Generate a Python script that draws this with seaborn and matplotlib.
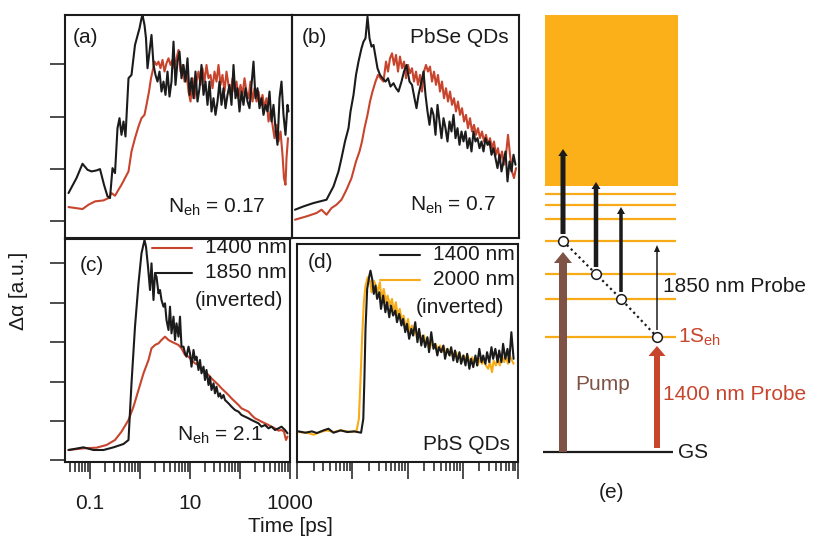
import numpy as np
import pandas as pd
import seaborn as sns
import matplotlib.pyplot as plt
from matplotlib.ticker import FixedLocator, NullFormatter
from matplotlib.patches import Rectangle

### Data (delay stored as log10 of time in ps, signal in arbitrary units)

# (a) PbSe, N_eh = 0.17
a_black_logt = [-1.43, -1.27, -1.15, -1.05, -0.97, -0.87, -0.80, -0.72, -0.65, -0.60, -0.55, -0.50, -0.45, -0.41,
                -0.37, -0.33, -0.29, -0.23, -0.17, -0.10, -0.01, 0.03, 0.05, 0.09, 0.12, 0.15, 0.19, 0.23, 0.27, 0.31,
                0.35, 0.39, 0.43, 0.47, 0.51, 0.55, 0.59, 0.63, 0.67, 0.71, 0.75, 0.79, 0.83, 0.87, 0.91, 0.95, 0.99,
                1.03, 1.07, 1.11, 1.15, 1.19, 1.23, 1.27, 1.31, 1.35, 1.39, 1.43, 1.47, 1.51, 1.55, 1.59, 1.63, 1.67,
                1.71, 1.75, 1.79, 1.83, 1.87, 1.91, 1.95, 1.99, 2.03, 2.07, 2.11, 2.15, 2.19, 2.23, 2.27, 2.31, 2.35,
                2.39, 2.43, 2.47, 2.51, 2.55, 2.59, 2.63, 2.67, 2.71, 2.75, 2.79, 2.83, 2.87, 2.91, 2.95, 2.97]
a_black_sig = [135, 180, 223, 205, 200, 203, 207, 160, 125, 120, 210, 195, 330, 360,
               310, 350, 305, 480, 490, 580, 630, 660, 670, 640, 600, 510, 560, 610, 520, 490,
               470, 500, 440, 470, 430, 500, 425, 470, 590, 460, 530, 560, 480, 520, 470, 540, 430,
               480, 420, 500, 410, 450, 520, 430, 470, 400, 470, 380, 420, 370, 410, 470, 400, 450,
               390, 430, 460, 400, 520, 420, 450, 380, 440, 400, 450, 410, 390, 460, 530, 420, 450,
               390, 420, 370, 400, 380, 440, 350, 400, 330, 280, 420, 470, 370, 310, 400, 380]
a_red_logt = [-1.43, -1.15, -1.03, -0.90, -0.73, -0.63, -0.57, -0.50, -0.43, -0.37, -0.30, -0.23, -0.17, -0.10,
              -0.03, 0.03, 0.09, 0.13, 0.18, 0.22, 0.25, 0.29, 0.33, 0.37, 0.41, 0.45, 0.49, 0.53, 0.57, 0.61,
              0.65, 0.69, 0.73, 0.77, 0.81, 0.85, 0.89, 0.93, 0.97, 1.01, 1.05, 1.09, 1.13, 1.17, 1.21, 1.25,
              1.29, 1.33, 1.37, 1.41, 1.45, 1.49, 1.53, 1.57, 1.61, 1.65, 1.69, 1.73, 1.77, 1.81, 1.85, 1.89,
              1.93, 1.97, 2.01, 2.05, 2.09, 2.13, 2.17, 2.21, 2.25, 2.29, 2.33, 2.37, 2.41, 2.45, 2.49, 2.53,
              2.57, 2.61, 2.65, 2.69, 2.73, 2.77, 2.81, 2.85, 2.88, 2.91, 2.93, 2.96]
a_red_sig = [93, 87, 100, 110, 113, 120, 135, 127, 145, 160, 180, 200, 260, 300,
             335, 360, 370, 400, 440, 480, 500, 530, 520, 530, 510, 535, 500, 525, 540, 520,
             535, 510, 540, 565, 500, 520, 470, 500, 440, 410, 480, 420, 470, 500, 460, 510,
             470, 520, 480, 490, 450, 500, 470, 520, 460, 490, 440, 500, 460, 430, 480, 440,
             470, 420, 460, 430, 480, 440, 420, 470, 410, 450, 410, 440, 400, 430, 390, 420,
             350, 380, 340, 300, 340, 290, 320, 250, 180, 160, 240, 300]

# (b) PbSe, N_eh = 0.7
b_black_logt = [-1.44, -1.27, -1.07, -0.81, -0.67, -0.57, -0.51, -0.44, -0.37, -0.33, -0.27, -0.22, -0.17, -0.11,
                -0.07, -0.03, 0.01, 0.05, 0.09, 0.13, 0.17, 0.21, 0.26, 0.31, 0.37, 0.42, 0.47, 0.53, 0.58, 0.63,
                0.69, 0.74, 0.79, 0.85, 0.90, 0.95, 0.99, 1.03, 1.09, 1.13, 1.17, 1.21, 1.25, 1.29, 1.33, 1.37,
                1.41, 1.45, 1.49, 1.53, 1.57, 1.61, 1.65, 1.69, 1.73, 1.77, 1.81, 1.85, 1.89, 1.93, 1.97, 2.01,
                2.05, 2.09, 2.13, 2.17, 2.21, 2.25, 2.29, 2.33, 2.37, 2.41, 2.45, 2.49, 2.53, 2.57, 2.61, 2.65,
                2.69, 2.73, 2.77, 2.81, 2.85, 2.89, 2.93, 2.97]
b_black_sig = [85, 95, 105, 115, 155, 200, 240, 290, 330, 380, 430, 490, 530, 570,
               590, 600, 665, 600, 575, 580, 545, 510, 490, 480, 470, 480, 455, 465, 450, 440,
               470, 500, 520, 470, 460, 420, 390, 430, 470, 500, 430, 380, 340, 390, 370, 310,
               400, 350, 300, 360, 330, 290, 350, 320, 370, 300, 330, 280, 320, 290, 320, 270,
               300, 260, 320, 290, 300, 270, 290, 260, 300, 280, 290, 250, 270, 240, 210, 250,
               200, 230, 260, 170, 230, 200, 250, 220]
b_red_logt = [-1.44, -1.21, -1.01, -0.91, -0.81, -0.71, -0.61, -0.51, -0.41, -0.31, -0.22, -0.15, -0.10, -0.05,
              0.01, 0.06, 0.11, 0.17, 0.22, 0.27, 0.33, 0.38, 0.42, 0.46, 0.50, 0.54, 0.58, 0.62, 0.66, 0.70,
              0.74, 0.78, 0.82, 0.86, 0.90, 0.94, 0.98, 1.02, 1.06, 1.10, 1.14, 1.18, 1.22, 1.26, 1.30, 1.34,
              1.38, 1.42, 1.46, 1.50, 1.54, 1.58, 1.62, 1.66, 1.70, 1.74, 1.78, 1.82, 1.86, 1.90, 1.94, 1.98,
              2.02, 2.06, 2.10, 2.14, 2.18, 2.22, 2.26, 2.30, 2.34, 2.38, 2.42, 2.46, 2.50, 2.54, 2.58, 2.62,
              2.66, 2.70, 2.74, 2.78, 2.82, 2.86, 2.90, 2.94, 2.98]
b_red_sig = [55, 65, 75, 85, 70, 90, 100, 115, 145, 180, 230, 260, 290, 330,
             370, 410, 440, 470, 490, 480, 470, 530, 500, 540, 555, 520, 550, 500, 545, 510,
             530, 480, 520, 495, 510, 470, 500, 460, 490, 440, 500, 520, 500, 515, 470, 500,
             460, 490, 440, 470, 420, 450, 410, 440, 400, 420, 380, 410, 370, 390, 350, 370,
             330, 360, 320, 340, 310, 330, 300, 320, 290, 310, 280, 300, 270, 290, 250, 270,
             230, 260, 220, 250, 310, 250, 200, 180, 210]

# (c) PbSe, N_eh = 2.1
c_red_logt = [-1.43, -1.13, -0.87, -0.67, -0.50, -0.37, -0.23, -0.13, -0.03, 0.07, 0.17, 0.23, 0.30, 0.37,
              0.43, 0.50, 0.57, 0.63, 0.70, 0.77, 0.83, 0.90, 0.97, 1.03, 1.10, 1.17, 1.23, 1.30, 1.37, 1.43,
              1.50, 1.57, 1.63, 1.70, 1.77, 1.83, 1.90, 1.97, 2.03, 2.10, 2.17, 2.23, 2.30, 2.37, 2.43, 2.50,
              2.57, 2.63, 2.70, 2.77, 2.83, 2.88, 2.92, 2.95]
c_red_sig = [30, 35, 37, 45, 60, 85, 120, 160, 210, 260, 300, 335, 345, 350,
             360, 370, 360, 355, 350, 345, 335, 315, 310, 300, 290, 285, 275, 265, 255, 245,
             235, 225, 215, 205, 195, 185, 175, 165, 155, 150, 145, 135, 125, 120, 115, 110,
             105, 100, 95, 88, 90, 85, 60, 70]
c_black_logt = [-1.43, -1.13, -0.93, -0.73, -0.53, -0.33, -0.23, -0.17, -0.10, -0.03, 0.03, 0.09, 0.12, 0.16,
                0.20, 0.23, 0.27, 0.30, 0.33, 0.37, 0.40, 0.43, 0.47, 0.50, 0.53, 0.57, 0.60, 0.63, 0.67, 0.70,
                0.73, 0.77, 0.80, 0.83, 0.87, 0.90, 0.93, 0.97, 1.00, 1.03, 1.07, 1.10, 1.13, 1.17, 1.20, 1.23,
                1.27, 1.30, 1.33, 1.37, 1.40, 1.43, 1.47, 1.50, 1.53, 1.57, 1.60, 1.63, 1.67, 1.70, 1.77, 1.83,
                1.90, 1.97, 2.03, 2.10, 2.17, 2.23, 2.30, 2.37, 2.43, 2.50, 2.57, 2.63, 2.70, 2.77, 2.83, 2.90,
                2.95]
c_black_sig = [30, 38, 30, 30, 38, 48, 60, 230, 400, 530, 620, 660, 640, 580,
               510, 590, 480, 560, 550, 500, 510, 480, 460, 470, 420, 390, 460, 380, 430, 360,
               410, 370, 430, 340, 340, 320, 310, 340, 320, 280, 330, 300, 310, 270, 300, 260,
               280, 240, 270, 225, 250, 210, 230, 200, 220, 190, 200, 185, 195, 180, 170, 160,
               150, 145, 135, 130, 125, 120, 115, 110, 100, 105, 95, 100, 90, 95, 100, 90,
               80]

# (d) PbS: 1400 nm (black) and 2000 nm inverted (orange)
d_orange_logt = [-0.97, -0.82, -0.70, -0.58, -0.46, -0.34, -0.21, -0.09, 0.00, 0.08, 0.12, 0.15, 0.18, 0.21,
                 0.24, 0.28, 0.32, 0.35, 0.39, 0.43, 0.46, 0.50, 0.53, 0.57, 0.61, 0.64, 0.68, 0.72, 0.75, 0.79,
                 0.82, 0.86, 0.90, 0.93, 0.97, 1.01, 1.04, 1.08, 1.11, 1.15, 1.19, 1.22, 1.26, 1.30, 1.33, 1.37,
                 1.40, 1.44, 1.48, 1.51, 1.55, 1.59, 1.62, 1.66, 1.69, 1.73, 1.77, 1.80, 1.84, 1.88, 1.91, 1.95,
                 1.98, 2.02, 2.06, 2.09, 2.13, 2.17, 2.20, 2.24, 2.27, 2.31, 2.35, 2.38, 2.42, 2.46, 2.49, 2.53,
                 2.56, 2.60, 2.64, 2.67, 2.71, 2.75, 2.78, 2.82, 2.85, 2.89, 2.92]
d_orange_sig = [90, 88, 82, 90, 95, 90, 95, 92, 90, 95, 130, 250, 380, 480,
                530, 555, 545, 510, 545, 530, 510, 540, 490, 520, 480, 500, 470, 490, 450, 480,
                440, 460, 420, 440, 400, 430, 390, 410, 380, 400, 370, 390, 360, 380, 350, 370,
                340, 360, 345, 355, 335, 350, 330, 345, 325, 340, 320, 335, 315, 330, 310, 325,
                300, 320, 305, 320, 295, 315, 300, 310, 290, 310, 295, 305, 290, 280, 300, 270,
                305, 290, 310, 290, 320, 300, 315, 295, 320, 305, 295]
d_black_logt = [-0.97, -0.85, -0.73, -0.64, -0.52, -0.43, -0.34, -0.21, -0.09, 0.03, 0.16, 0.20, 0.22, 0.24,
                0.27, 0.31, 0.33, 0.36, 0.39, 0.42, 0.45, 0.49, 0.52, 0.56, 0.60, 0.63, 0.67, 0.70, 0.74, 0.78,
                0.81, 0.85, 0.89, 0.92, 0.96, 0.99, 1.03, 1.07, 1.10, 1.14, 1.18, 1.21, 1.25, 1.28, 1.32, 1.36,
                1.39, 1.43, 1.47, 1.50, 1.54, 1.57, 1.61, 1.65, 1.68, 1.72, 1.76, 1.79, 1.83, 1.86, 1.90, 1.94,
                1.97, 2.01, 2.05, 2.08, 2.12, 2.15, 2.19, 2.23, 2.26, 2.30, 2.34, 2.37, 2.41, 2.44, 2.48, 2.52,
                2.55, 2.59, 2.63, 2.66, 2.70, 2.73, 2.77, 2.81, 2.84, 2.88, 2.92]
d_black_sig = [92, 88, 92, 87, 95, 100, 88, 95, 90, 92, 88, 130, 250, 400,
               520, 560, 575, 550, 505, 530, 490, 510, 460, 500, 450, 480, 435, 470, 440, 455,
               420, 445, 410, 430, 390, 415, 370, 400, 380, 420, 360, 400, 350, 380, 345, 375,
               330, 390, 340, 355, 320, 345, 330, 350, 310, 340, 320, 345, 305, 335, 300, 330,
               295, 320, 290, 325, 280, 310, 285, 320, 290, 340, 300, 320, 295, 330, 300, 345,
               310, 340, 300, 335, 300, 355, 310, 340, 300, 390, 310]

# (e) level scheme, energies in a.u. above the ground state
gs_energy = 0
confined_levels = [115, 153, 178, 211, 233, 247, 258]
continuum_range = (266, 437)
carrier_x = [33, 66, 91, 127]
carrier_levels = [211, 178, 153, 115]
probe_1850_energy = 85
probe_1850_widths = [5, 4.5, 3.5, 1.5]
pump_energy = 200
probe_1400_energy = 102

### Styling
sns.set_style('ticks')
plt.rcParams['font.family'] = ['Liberation Sans', 'DejaVu Sans']
plt.rcParams['mathtext.fontset'] = 'custom'
plt.rcParams['mathtext.rm'] = 'Liberation Sans'

RED = '#c8452d'
BLACK = '#1c1b1b'
ORANGE = '#f7ab17'
FILL = '#fbb01a'
BROWN = '#7e5346'
FS = 15

plt.rcParams['text.color'] = BLACK
plt.rcParams['xtick.color'] = BLACK
plt.rcParams['ytick.color'] = BLACK

W, H = 815, 539

# log-axis tick positions
decades = [0.01, 0.1, 1, 10, 100]
major_ticks = [0.1, 1, 10, 100, 1000]
minor_ticks = [d * k for d in decades for k in range(2, 10)]


def px_axes(fig, left, top, right, bottom):
    return fig.add_axes([left / W, (H - bottom) / H, (right - left) / W, (bottom - top) / H])


def draw(ax, logt, sig, color):
    df = pd.DataFrame({'t': 10 ** np.array(logt), 'sig': sig})
    sns.lineplot(data=df, x='t', y='sig', ax=ax, color=color, lw=1.5, sort=False, estimator=None)


def box(ax):
    for s in ax.spines.values():
        s.set_visible(True)
        s.set_linewidth(1.5)
        s.set_color(BLACK)
    ax.set_xlabel('')
    ax.set_ylabel('')
    ax.set_facecolor('none')
    ax.tick_params(which='both', direction='out', width=1.1, color=BLACK, labelsize=FS, labelcolor=BLACK)


fig = plt.figure(figsize=(8.15, 5.39), dpi=100)

ax_a = px_axes(fig, 65, 15, 292, 238)
ax_b = px_axes(fig, 292, 15, 519, 238)
ax_c = px_axes(fig, 65, 239, 290, 462)
ax_d = px_axes(fig, 297, 244, 518, 462)

draw(ax_a, a_red_logt, a_red_sig, RED)
draw(ax_a, a_black_logt, a_black_sig, BLACK)
draw(ax_b, b_red_logt, b_red_sig, RED)
draw(ax_b, b_black_logt, b_black_sig, BLACK)
draw(ax_c, c_red_logt, c_red_sig, RED)
draw(ax_c, c_black_logt, c_black_sig, BLACK)
draw(ax_d, d_orange_logt, d_orange_sig, ORANGE)
draw(ax_d, d_black_logt, d_black_sig, BLACK)

for ax in [ax_a, ax_b, ax_c, ax_d]:
    ax.set_xscale('log')
    box(ax)

# top row
for ax in [ax_a, ax_b]:
    ax.set_xlim(10 ** -1.5, 10 ** 3.04)
    ax.set_ylim(0, 670)
    ax.tick_params(axis='x', which='both', bottom=False, labelbottom=False)
ax_a.set_yticks([50, 208, 365, 522])
ax_a.tick_params(axis='y', length=11, labelleft=False)
ax_b.set_yticks([])

# bottom row: shared tick layout
for ax in [ax_c, ax_d]:
    ax.xaxis.set_major_locator(FixedLocator(major_ticks))
    ax.xaxis.set_minor_locator(FixedLocator(minor_ticks))
    ax.xaxis.set_minor_formatter(NullFormatter())
    ax.tick_params(axis='x', which='major', length=12, pad=11)
    ax.tick_params(axis='x', which='minor', length=7)

# (c)
ax_c.set_xlim(10 ** -1.5, 10 ** 3.0)
ax_c.set_ylim(-6, 663)
ax_c.set_yticks([0, 118, 235, 353, 472, 590])
ax_c.tick_params(axis='y', length=11, labelleft=False)
ax_c.set_xticklabels(['0.1', '', '10', '', '1000'])

# (d)
ax_d.set_xlim(0.1, 1000)
ax_d.set_ylim(0, 655)
ax_d.set_yticks([])
ax_d.xaxis.set_major_formatter(NullFormatter())
ax_d.tick_params(axis='x', which='minor', length=6.5)

# panel annotations
ax_a.text(0.035, 0.901, '(a)', transform=ax_a.transAxes, fontsize=FS, va='center')
ax_a.text(0.454, 0.139, r'N$_\mathregular{eh}$ = 0.17', transform=ax_a.transAxes, fontsize=FS, va='center')
ax_b.text(0.044, 0.901, '(b)', transform=ax_b.transAxes, fontsize=FS, va='center')
ax_b.text(0.956, 0.901, 'PbSe QDs', transform=ax_b.transAxes, fontsize=FS, va='center', ha='right')
ax_b.text(0.520, 0.148, r'N$_\mathregular{eh}$ = 0.7', transform=ax_b.transAxes, fontsize=FS, va='center')
ax_c.text(0.067, 0.883, '(c)', transform=ax_c.transAxes, fontsize=FS, va='center')
ax_c.text(0.498, 0.121, r'N$_\mathregular{eh}$ = 2.1', transform=ax_c.transAxes, fontsize=FS, va='center')
ax_d.text(0.050, 0.913, '(d)', transform=ax_d.transAxes, fontsize=FS, va='center')
ax_d.text(0.964, 0.078, 'PbS QDs', transform=ax_d.transAxes, fontsize=FS, va='center', ha='right')

# hand-made legends
ax_c.plot([0.387, 0.564], [0.960, 0.960], color=RED, lw=1.5, transform=ax_c.transAxes)
ax_c.plot([0.400, 0.564], [0.848, 0.848], color=BLACK, lw=1.5, transform=ax_c.transAxes)
ax_c.text(0.987, 0.960, '1400 nm', transform=ax_c.transAxes, fontsize=FS, va='center', ha='right')
ax_c.text(0.987, 0.848, '1850 nm', transform=ax_c.transAxes, fontsize=FS, va='center', ha='right')
ax_c.text(0.969, 0.726, '(inverted)', transform=ax_c.transAxes, fontsize=FS, va='center', ha='right')

ax_d.plot([0.376, 0.557], [0.950, 0.950], color=BLACK, lw=1.5, transform=ax_d.transAxes)
ax_d.plot([0.376, 0.557], [0.835, 0.835], color=ORANGE, lw=1.5, transform=ax_d.transAxes)
ax_d.text(0.986, 0.950, '1400 nm', transform=ax_d.transAxes, fontsize=FS, va='center', ha='right')
ax_d.text(0.986, 0.835, '2000 nm', transform=ax_d.transAxes, fontsize=FS, va='center', ha='right')
ax_d.text(0.936, 0.711, '(inverted)', transform=ax_d.transAxes, fontsize=FS, va='center', ha='right')

fig.text(18 / W, (H - 291) / H, 'Δα [a.u.]', rotation=90, fontsize=FS, va='center', ha='center')
fig.text(290 / W, (H - 527) / H, 'Time [ps]', fontsize=FS, va='center', ha='center')

### (e) energy level scheme
ax_e = px_axes(fig, 530, 0, 815, 539)
ax_e.set_xlim(0, 285)
ax_e.set_ylim(-87, 452)
ax_e.axis('off')

ax_e.add_patch(Rectangle((15, continuum_range[0]), 133, continuum_range[1] - continuum_range[0],
                         color=FILL, lw=0))
ax_e.hlines(confined_levels, 15, 146, color=ORANGE, lw=1.6)
ax_e.hlines(gs_energy, 13, 143, color=BLACK, lw=1.6)

# relaxation path
ax_e.plot(carrier_x, carrier_levels, ls=(0, (1, 1.5)), color=BLACK, lw=1.6, zorder=3)

# 1850 nm probe transitions from each relaxing carrier
for x, e, w in zip(carrier_x, carrier_levels, probe_1850_widths):
    base = e + 7
    ax_e.arrow(x, base, 0, probe_1850_energy, width=w, head_width=w + 4.5, head_length=7,
               length_includes_head=True, color=BLACK, lw=0, zorder=3)

ax_e.plot(carrier_x, carrier_levels, 'o', ms=7, mfc='white', mec=BLACK, mew=1.1, zorder=4)

# pump and 1400 nm probe
ax_e.arrow(carrier_x[0], gs_energy, 0, pump_energy, width=8, head_width=18, head_length=11,
           length_includes_head=True, color=BROWN, lw=0, zorder=2)
ax_e.arrow(carrier_x[-1], gs_energy + 4, 0, probe_1400_energy, width=6, head_width=17, head_length=10,
           length_includes_head=True, color=RED, lw=0, zorder=2)

ax_e.text(148, gs_energy, 'GS', fontsize=FS, va='center', ha='left')
ax_e.text(82, -40, '(e)', fontsize=FS, va='center', ha='center')
ax_e.text(133, 165, '1850 nm Probe', fontsize=FS, va='center', ha='left', clip_on=False)
ax_e.text(148, confined_levels[0], r'1S$_\mathregular{eh}$', fontsize=FS, va='center', ha='left', color=RED)
ax_e.text(45, 67, 'Pump', fontsize=FS, va='center', ha='left', color=BROWN)
ax_e.text(133, 58, '1400 nm Probe', fontsize=FS, va='center', ha='left', color=RED, clip_on=False)

plt.savefig('out.png', dpi=100)
plt.close()
